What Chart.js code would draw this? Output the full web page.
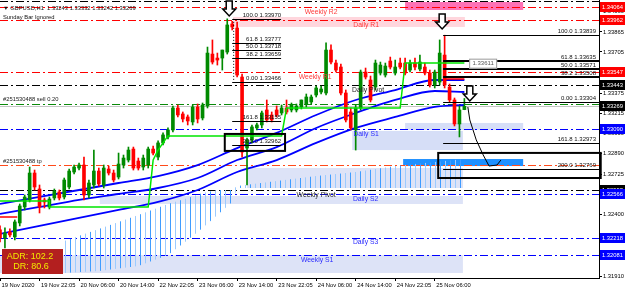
<!DOCTYPE html>
<html>
<head>
<meta charset="utf-8">
<script src="https://cdn.jsdelivr.net/npm/chart.js@4.4.1/dist/chart.umd.min.js"></script>
<style>
  html, body { margin: 0; padding: 0; background: #fff; overflow: hidden; }
</style>
</head>
<body>
<canvas id="chart" width="625" height="291"></canvas>
<script>
// ---- data (GBPUSD H1) ----
const timeLabels = ['19 Nov 2020', '19 Nov 22:05', '20 Nov 06:00', '20 Nov 14:00', '22 Nov 22:05', '23 Nov 06:00',
  '23 Nov 14:00', '23 Nov 22:05', '24 Nov 06:00', '24 Nov 14:00', '24 Nov 22:05', '25 Nov 06:00'];
const timeSlots = [0, 8, 16, 24, 32, 40, 48, 56, 64, 72, 80, 88];
const priceTicks = [1.34030, 1.33865, 1.33705, 1.33540, 1.33375, 1.33215, 1.33050, 1.32890, 1.32725, 1.32560,
  1.32400, 1.32235, 1.32070, 1.31910];

const opens = [1.32279, 1.32215, 1.32263, 1.32223, 1.32335, 1.32463, 1.32519, 1.32735, 1.32607, 1.32519,
  1.32463, 1.32535, 1.32583, 1.32543, 1.32623, 1.32743, 1.32775, 1.32799, 1.32559, 1.32639,
  1.32751, 1.32639, 1.32767, 1.32735, 1.32703, 1.32799, 1.32839, 1.32927, 1.32831, 1.32783,
  1.32799, 1.32927, 1.32863, 1.32976, 1.33024, 1.33080, 1.33256, 1.33208, 1.33184, 1.33144,
  1.33264, 1.33176, 1.33272, 1.33688, 1.33656, 1.33656, 1.33704, 1.33929, 1.33897, 1.33504,
  1.32935, 1.32999, 1.33096, 1.33120, 1.33240, 1.33200, 1.33240, 1.33216, 1.33256, 1.33240,
  1.33240, 1.33264, 1.33288, 1.33304, 1.33360, 1.33384, 1.33376, 1.33720, 1.33616, 1.33584,
  1.33376, 1.33224, 1.33080, 1.33256, 1.33544, 1.33480, 1.33424, 1.33536, 1.33520, 1.33632,
  1.33536, 1.33616, 1.33616, 1.33560, 1.33616, 1.33568, 1.33584, 1.33536, 1.33440, 1.33464,
  1.33680, 1.33424, 1.33320, 1.33128, 1.33243];
const highs = [1.32311, 1.32295, 1.32287, 1.32359, 1.32487, 1.32559, 1.32783, 1.32759, 1.32639, 1.32535,
  1.32543, 1.32607, 1.32599, 1.32695, 1.32767, 1.32799, 1.32815, 1.32863, 1.32679, 1.32919,
  1.32775, 1.32799, 1.32791, 1.32759, 1.32895, 1.32879, 1.32943, 1.32943, 1.32855, 1.32879,
  1.32943, 1.32951, 1.32992, 1.33056, 1.33096, 1.33272, 1.33280, 1.33224, 1.33200, 1.33280,
  1.33288, 1.33296, 1.33744, 1.33801, 1.33696, 1.33720, 1.33970, 1.33950, 1.33945, 1.33528,
  1.33015, 1.33120, 1.33136, 1.33232, 1.33320, 1.33224, 1.33272, 1.33280, 1.33320, 1.33296,
  1.33288, 1.33320, 1.33368, 1.33360, 1.33432, 1.33432, 1.33777, 1.33761, 1.33640, 1.33608,
  1.33400, 1.33256, 1.33280, 1.33560, 1.33576, 1.33512, 1.33640, 1.33624, 1.33616, 1.33664,
  1.33640, 1.33656, 1.33656, 1.33640, 1.33656, 1.33680, 1.33616, 1.33560, 1.33560, 1.33801,
  1.33839, 1.33448, 1.33336, 1.33272, 1.33332];
const lows = [1.32183, 1.32135, 1.32223, 1.32199, 1.32311, 1.32439, 1.32503, 1.32599, 1.32415, 1.32455,
  1.32447, 1.32519, 1.32519, 1.32527, 1.32607, 1.32727, 1.32759, 1.32519, 1.32535, 1.32615,
  1.32631, 1.32615, 1.32719, 1.32663, 1.32687, 1.32775, 1.32823, 1.32759, 1.32759, 1.32759,
  1.32775, 1.32879, 1.32839, 1.32960, 1.33008, 1.33064, 1.33184, 1.33144, 1.33120, 1.33120,
  1.33136, 1.33160, 1.33256, 1.33608, 1.33600, 1.33560, 1.33688, 1.33881, 1.33504, 1.32863,
  1.32639, 1.32976, 1.33080, 1.33096, 1.33144, 1.33144, 1.33184, 1.33200, 1.33208, 1.33224,
  1.33224, 1.33248, 1.33264, 1.33288, 1.33344, 1.33368, 1.33360, 1.33608, 1.33544, 1.33360,
  1.33144, 1.33080, 1.32919, 1.33240, 1.33488, 1.33304, 1.33400, 1.33520, 1.33504, 1.33568,
  1.33520, 1.33568, 1.33520, 1.33544, 1.33560, 1.33552, 1.33520, 1.33424, 1.33416, 1.33440,
  1.33416, 1.33304, 1.33112, 1.33024, 1.33242];
const closes = [1.32215, 1.32255, 1.32239, 1.32343, 1.32471, 1.32543, 1.32735, 1.32623, 1.32463, 1.32503,
  1.32527, 1.32591, 1.32535, 1.32679, 1.32751, 1.32783, 1.32799, 1.32559, 1.32655, 1.32751,
  1.32647, 1.32775, 1.32735, 1.32679, 1.32807, 1.32855, 1.32919, 1.32775, 1.32775, 1.32855,
  1.32927, 1.32895, 1.32976, 1.33040, 1.33080, 1.33256, 1.33200, 1.33168, 1.33152, 1.33264,
  1.33168, 1.33280, 1.33696, 1.33624, 1.33640, 1.33720, 1.33921, 1.33905, 1.33520, 1.32903,
  1.32999, 1.33104, 1.33120, 1.33216, 1.33160, 1.33160, 1.33200, 1.33256, 1.33224, 1.33280,
  1.33272, 1.33320, 1.33344, 1.33344, 1.33416, 1.33408, 1.33720, 1.33624, 1.33560, 1.33376,
  1.33160, 1.33096, 1.33256, 1.33544, 1.33504, 1.33320, 1.33616, 1.33600, 1.33592, 1.33584,
  1.33584, 1.33584, 1.33536, 1.33616, 1.33584, 1.33624, 1.33536, 1.33440, 1.33544, 1.33696,
  1.33440, 1.33320, 1.33128, 1.33240, 1.33269];

// moving averages, sampled every 8 bars
const maSlots = [0, 8, 16, 24, 32, 40, 48, 56, 64, 72, 80, 88, 94];
const maFast = [1.32487, 1.32543, 1.32599, 1.32655, 1.32711, 1.32799, 1.32935, 1.33056, 1.33200, 1.33320, 1.33400, 1.33480, 1.33480];
const maMid = [1.32407, 1.32463, 1.32519, 1.32567, 1.32615, 1.32695, 1.32839, 1.32943, 1.33096, 1.33216, 1.33320, 1.33392, 1.33384];
const maSlow = [1.32247, 1.32311, 1.32375, 1.32439, 1.32503, 1.32599, 1.32743, 1.32839, 1.32976, 1.33096, 1.33184, 1.33264, 1.33280];

// trailing stop steps
const trailUpSlots = [0, 10, 10, 30, 31, 32, 33, 34, 57, 58, 81, 82, 94];
const trailUp = [1.32511, 1.32511, 1.32463, 1.32463, 1.32839, 1.32919, 1.32976, 1.33032, 1.33032, 1.33256, 1.33256, 1.33616, 1.33616];
const trailDownSlots = [0, 3.5, 3.5, 89.7, 94];
const trailDown = [1.32383, 1.32383, null, 1.33488, 1.33488];

// histogram band
const cloudSlots = [13, 20, 28, 34, 38, 41, 44, 47, 48, 56, 64, 72, 80, 88, 94];
const cloudTop = [1.32191, 1.32287, 1.32399, 1.32487, 1.32535, 1.32575, 1.32599, 1.32599, 1.32631, 1.32671, 1.32711, 1.32743, 1.32791, 1.32823, 1.32847];
const cloudBottom = [1.31934, 1.31950, 1.31990, 1.32078, 1.32199, 1.32295, 1.32399, 1.32503, 1.32615, 1.32615, 1.32615, 1.32615, 1.32615, 1.32615, 1.32615];

// pivot levels
const levelNames = ['', 'Weekly R2', 'Daily R1', 'Weekly R1', 'Daily Pivot', 'Daily S1', 'Weekly Pivot', 'Daily S2', 'Daily S3', 'Weekly S1'];
const levelPrices = [1.34113, 1.34064, 1.33962, 1.33547, 1.33443, 1.33090, 1.32598, 1.32566, 1.32218, 1.32081];
const sellPrice = 1.33290;
const tpPrice = 1.32800;
const dayOpenPrice = 1.33611;

// fibonacci retracements
const fibNames = ['100.0', '61.8', '50.0', '38.2', '0.00', '161.8', '200.0'];
const fibLeft = [1.33970, 1.33777, 1.33718, 1.33659, 1.33466, 1.33155, 1.32962];
const fibRight = [1.33839, 1.33635, 1.33571, 1.33508, 1.33304, 1.32973, 1.32769];

// ---- styles / placement ----
const GREEN = '#008a00', RED = '#ff0000';
const levelColors = ['#000', '#ff0000', '#ff0000', '#ff0000', '#000', '#0000ff', '#000', '#0000ff', '#0000ff', '#0000ff'];
const levelTextColors = ['#000', '#ff3b3b', '#ff3b3b', '#ff3b3b', '#222', '#2b2bff', '#222', '#2b2bff', '#2b2bff', '#2b2bff'];
const levelTextSlot = [0, 65, 74.1, 63.8, 74.5, 74.1, 64, 74, 74, 64.2];
const zones = [
  { x0: 82, x1: 105.9, p0: 1.34105, p1: 1.34041, color: '#ff72b6' },
  { x0: 47.2, x1: 94.1, p0: 1.33985, p1: 1.33905, color: '#ffd6dd' },
  { x0: 82, x1: 105.9, p0: 1.33136, p1: 1.33080, color: '#d6def7' },
  { x0: 71.3, x1: 93.7, p0: 1.33072, p1: 1.32919, color: '#d6def7' },
  { x0: 50, x1: 93.7, p0: 1.32775, p1: 1.32615, color: '#dde3f7' },
  { x0: 20.2, x1: 93.7, p0: 1.32551, p1: 1.32487, color: '#dde3f7' },
  { x0: 0, x1: 93.7, p0: 1.32078, p1: 1.31934, color: '#dde3f7' },
  { x0: 81.6, x1: 105.9, p0: 1.32847, p1: 1.32791, color: '#1e90ff' }
];
const FONT = '"Liberation Sans", Arial, sans-serif';
const SMALL = 5.8;
const DASHDOT = [8, 3, 2, 3];

const stripe = document.createElement('canvas');
stripe.width = 10; stripe.height = 1;
const sctx = stripe.getContext('2d');
sctx.fillStyle = '#3f9cff'; sctx.fillRect(0, 0, 1, 1);
sctx.fillStyle = '#9ccbff'; sctx.fillRect(5, 0, 1, 1);
const stripePattern = sctx.createPattern(stripe, 'repeat');

function text(ctx, str, x, y, color, size, align, bold) {
  ctx.font = (bold ? 'bold ' : '') + size + 'px ' + FONT;
  ctx.fillStyle = color;
  ctx.textAlign = align || 'left';
  ctx.textBaseline = 'middle';
  ctx.fillText(str, x, y);
}

function hline(ctx, x0, x1, y, color, width, dash) {
  ctx.save();
  ctx.beginPath();
  ctx.setLineDash(dash || []);
  ctx.strokeStyle = color;
  ctx.lineWidth = width;
  const yy = Math.round(y) + (width % 2 ? 0.5 : 0);
  ctx.moveTo(x0, yy);
  ctx.lineTo(x1, yy);
  ctx.stroke();
  ctx.restore();
}

function downArrow(ctx, tx, ty) {
  ctx.beginPath();
  ctx.moveTo(tx - 3, ty - 15); ctx.lineTo(tx + 3, ty - 15); ctx.lineTo(tx + 3, ty - 7);
  ctx.lineTo(tx + 6.5, ty - 7); ctx.lineTo(tx, ty); ctx.lineTo(tx - 6.5, ty - 7);
  ctx.lineTo(tx - 3, ty - 7); ctx.closePath();
  ctx.fillStyle = '#fff'; ctx.fill();
  ctx.strokeStyle = '#000'; ctx.lineWidth = 1.5; ctx.stroke();
}

const overlay = {
  id: 'overlay',
  beforeDatasetsDraw(chart) {
    const ctx = chart.ctx, a = chart.chartArea;
    const X = v => chart.scales.x.getPixelForValue(v);
    const Y = v => chart.scales.y.getPixelForValue(v);
    ctx.save();
    ctx.beginPath(); ctx.rect(a.left, a.top, a.right - a.left, a.bottom - a.top); ctx.clip();
    for (const z of zones) {
      ctx.fillStyle = z.color;
      ctx.fillRect(X(z.x0), Y(z.p0), X(z.x1) - X(z.x0), Y(z.p1) - Y(z.p0));
    }
    levelPrices.forEach((p, i) => hline(ctx, a.left, a.right, Y(p), levelColors[i], 1, DASHDOT));
    hline(ctx, a.left, a.right, Y(sellPrice), '#0a8a0a', 1, DASHDOT);
    hline(ctx, a.left, a.right, Y(tpPrice), '#ff4a1a', 1, DASHDOT);
    hline(ctx, a.left, a.right, Y(closes[closes.length - 1]), '#c4c4c4', 1);
    ctx.restore();
  },
  afterDatasetsDraw(chart) {
    const ctx = chart.ctx, a = chart.chartArea;
    const X = v => chart.scales.x.getPixelForValue(v);
    const Y = v => chart.scales.y.getPixelForValue(v);
    ctx.save();

    // fib on the left swing
    const lx0 = X(47), lx1 = X(56.9);
    fibLeft.forEach((p, i) => {
      hline(ctx, lx0, lx1, Y(p), '#000', 1);
      text(ctx, fibNames[i] + ' ' + p.toFixed(5), lx1, Y(p) - 3.5, '#111', 6, 'right');
    });
    ctx.save();
    ctx.setLineDash([1, 2]); ctx.strokeStyle = '#000'; ctx.lineWidth = 1;
    ctx.beginPath(); ctx.moveTo(X(47.2) + 0.5, Y(fibLeft[0])); ctx.lineTo(X(47.2) + 0.5, Y(fibLeft[4])); ctx.stroke();
    ctx.restore();

    // fib on the right swing
    const rx0 = X(89.7), rx1 = a.right;
    fibRight.forEach((p, i) => {
      hline(ctx, rx0, rx1, Y(p), '#000', (i >= 1 && i <= 3) ? 2 : 1);
      text(ctx, fibNames[i] + ' ' + p.toFixed(5), 596, Y(p) - 3.5, '#111', 6, 'right');
    });

    // boxes
    ctx.strokeStyle = '#000'; ctx.lineWidth = 2;
    ctx.strokeRect(X(45.5), Y(1.33048), X(57.7) - X(45.5), Y(1.32912) - Y(1.33048));
    ctx.strokeRect(X(88.7), Y(1.32896), X(121.6) - X(88.7), Y(1.32695) - Y(1.32896));

    // day open tag
    const dx = X(97.8), dy = Y(dayOpenPrice);
    ctx.fillStyle = '#fff'; ctx.fillRect(dx - 14, dy - 5, 28, 10);
    ctx.strokeStyle = '#9a9a9a'; ctx.lineWidth = 1; ctx.strokeRect(dx - 14 + 0.5, dy - 5 + 0.5, 27, 9);
    text(ctx, dayOpenPrice.toFixed(5), dx, dy, '#555', 6, 'center');

    // arrows
    downArrow(ctx, X(46.4), Y(1.33993));
    downArrow(ctx, X(89.5), Y(1.33889));
    downArrow(ctx, X(95.1), Y(1.33312));

    // hand drawn path
    const path = [[94.7, 1.33264], [95.1, 1.33160], [96.4, 1.33000], [97.8, 1.32880], [99.0, 1.32791], [100.6, 1.32799], [101.4, 1.32839]];
    ctx.beginPath(); ctx.lineWidth = 1; ctx.strokeStyle = '#000';
    path.forEach((pt, i) => i ? ctx.lineTo(X(pt[0]), Y(pt[1])) : ctx.moveTo(X(pt[0]), Y(pt[1])));
    ctx.stroke();

    // level names
    levelNames.forEach((n, i) => {
      if (n) text(ctx, n, X(levelTextSlot[i]), Y(levelPrices[i]) + 5, levelTextColors[i], 6.8, 'center');
    });

    // order labels, header
    text(ctx, '#251530488 sell 0.20', 3, Y(sellPrice) - 4, '#222', SMALL, 'left');
    text(ctx, '#251530488 tp', 3, Y(tpPrice) - 4, '#222', SMALL, 'left');
    text(ctx, '\u25BC GBPUSD,H1  1.33243 1.33332 1.33242 1.33269', 3, 8, '#111', SMALL, 'left');
    text(ctx, 'Sunday Bar Ignored', 3, 17.5, '#111', SMALL, 'left');

    // ADR box
    ctx.fillStyle = '#b31f1f';
    ctx.fillRect(2, 249, 61, 25);
    text(ctx, 'ADR: 102.2', 30, 256.5, '#f2ea00', 9, 'center');
    text(ctx, 'DR: 80.6', 31, 267, '#f2ea00', 9, 'center');
    ctx.restore();
  },
  afterDraw(chart) {
    const ctx = chart.ctx, a = chart.chartArea;
    const Y = v => chart.scales.y.getPixelForValue(v);
    const tags = levelPrices.slice(1).map((p, i) => ({ p, c: levelColors[i + 1] }));
    tags.push({ p: closes[closes.length - 1], c: '#000' });
    ctx.save();
    for (const t of tags) {
      const y = Math.round(Y(t.p));
      ctx.fillStyle = t.c;
      ctx.fillRect(a.right + 1, y - 5, 25, 10);
      text(ctx, t.p.toFixed(5), a.right + 3, y, '#fff', SMALL, 'left');
    }
    ctx.restore();
  }
};

Chart.defaults.font.family = FONT;
Chart.defaults.font.size = SMALL;
Chart.defaults.color = '#000';

const bodyColors = opens.map((o, i) => closes[i] >= o ? GREEN : RED);

new Chart(document.getElementById('chart'), {
  type: 'bar',
  data: {
    datasets: [
      {
        type: 'line', order: 20,
        data: cloudSlots.map((s, i) => ({ x: s, y: cloudTop[i] })),
        borderWidth: 0, pointRadius: 0, fill: '+1', backgroundColor: stripePattern
      },
      {
        type: 'line', order: 21,
        data: cloudSlots.map((s, i) => ({ x: s, y: cloudBottom[i] })),
        borderWidth: 0, pointRadius: 0, fill: false
      },
      {
        type: 'line', order: 10, data: maSlots.map((s, i) => ({ x: s, y: maFast[i] })),
        borderColor: '#0000ff', borderWidth: 1.8, pointRadius: 0, cubicInterpolationMode: 'monotone'
      },
      {
        type: 'line', order: 10, data: maSlots.map((s, i) => ({ x: s, y: maMid[i] })),
        borderColor: '#0000ff', borderWidth: 1.8, pointRadius: 0, cubicInterpolationMode: 'monotone'
      },
      {
        type: 'line', order: 10, data: maSlots.map((s, i) => ({ x: s, y: maSlow[i] })),
        borderColor: '#0000ff', borderWidth: 1.8, pointRadius: 0, cubicInterpolationMode: 'monotone'
      },
      {
        order: 5, grouped: false, barThickness: 1,
        data: lows.map((l, i) => ({ x: i, y: [l, highs[i]] })),
        backgroundColor: bodyColors
      },
      {
        order: 4, grouped: false, barThickness: 3,
        data: opens.map((o, i) => ({ x: i, y: [o, closes[i]] })),
        backgroundColor: bodyColors
      },
      {
        type: 'line', order: 1, data: trailUpSlots.map((s, i) => ({ x: s, y: trailUp[i] })),
        borderColor: '#00e600', borderWidth: 1.5, pointRadius: 0
      },
      {
        type: 'line', order: 1, data: trailDownSlots.map((s, i) => ({ x: s, y: trailDown[i] })),
        borderColor: '#ff0000', borderWidth: 1.5, pointRadius: 0, spanGaps: false
      }
    ]
  },
  options: {
    responsive: false,
    animation: false,
    devicePixelRatio: 1,
    layout: { padding: 0 },
    plugins: { legend: { display: false }, tooltip: { enabled: false } },
    scales: {
      x: {
        type: 'linear', min: 0, max: 121.25, offset: false,
        grid: { drawOnChartArea: false, drawTicks: true, tickLength: 3, color: '#000', offset: false },
        border: { display: true, color: '#000' },
        afterBuildTicks: s => { s.ticks = timeSlots.map(v => ({ value: v })); },
        afterFit: s => { s.height = 13; s.paddingLeft = 0; s.paddingRight = 0; },
        ticks: { align: 'start', labelOffset: 1.5, padding: 1, maxRotation: 0, autoSkip: false,
          callback: (v, i) => timeLabels[i] }
      },
      y: {
        position: 'right', min: 1.31894, max: 1.34121,
        grid: { drawOnChartArea: false, drawTicks: true, tickLength: 3, color: '#000' },
        border: { display: true, color: '#000' },
        afterBuildTicks: s => { s.ticks = priceTicks.map(v => ({ value: v })); },
        afterFit: s => { s.width = 26; s.paddingTop = 0; s.paddingBottom = 0; },
        ticks: { padding: 1, callback: v => v.toFixed(5) }
      }
    }
  },
  plugins: [overlay]
});
</script>
</body>
</html>
